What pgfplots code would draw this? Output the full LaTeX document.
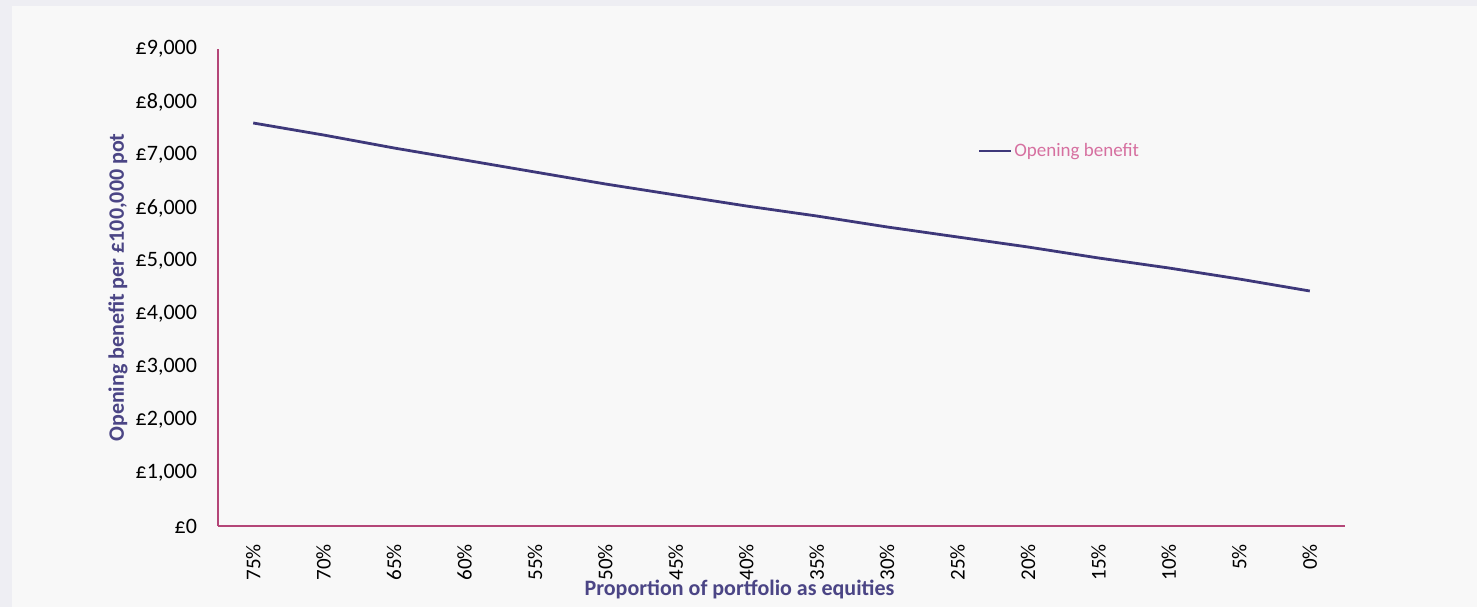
\documentclass[border=0pt]{standalone}
\usepackage{pgfplots}
\pgfplotsset{compat=1.18}
\usepackage{fontspec}
\setmainfont{Carlito}
\definecolor{frame}{RGB}{238,238,243}
\definecolor{panel}{RGB}{248,248,248}
\definecolor{series}{RGB}{62,56,122}
\definecolor{axcol}{RGB}{180,70,120}
\definecolor{titlecol}{RGB}{75,69,133}
\definecolor{legcol}{RGB}{214,112,160}
\begin{document}
\begin{tikzpicture}[x=1pt,y=1pt]
\fill[frame] (0,0) rectangle (738.5,303.5);
\fill[panel] (6,0) rectangle (738.5,300.5);
\useasboundingbox (0,0) rectangle (738.5,303.5);
\begin{axis}[
  at={(109pt,40.5pt)}, anchor=south west,
  scale only axis, width=563.5pt, height=238.5pt,
  xmin=-0.5, xmax=15.5, ymin=0, ymax=9000,
  axis x line=bottom, axis y line=left,
  axis line style={axcol, line width=0.6pt, -},
  major tick length=0pt,
  xtick={0,...,15},
  xticklabels={75\%,70\%,65\%,60\%,55\%,50\%,45\%,40\%,35\%,30\%,25\%,20\%,15\%,10\%,5\%,0\%},
  xticklabel style={rotate=90, anchor=east, font=\fontsize{10.5}{13}\selectfont, xshift=-5.5pt},
  ytick={0,1000,...,9000},
  scaled y ticks=false,
  yticklabel={£\pgfmathprintnumber[fixed,1000 sep={,}]{\tick}},
  yticklabel style={font=\fontsize{11}{13}\selectfont, xshift=-7pt},
  /pgf/number format/assume math mode=true,
  xlabel={Proportion of portfolio as equities},
  ylabel={Opening benefit per £100,000 pot},
  xlabel style={at={(axis description cs:0.5,0)}, anchor=center, xshift=-21pt, yshift=-31.5pt,
    font=\fontsize{11}{13}\selectfont\bfseries, text=titlecol},
  ylabel style={at={(axis description cs:0,0.5)}, anchor=center, yshift=50pt,
    font=\fontsize{11}{13}\selectfont\bfseries, text=titlecol},
  legend style={draw=none, fill=none, at={(rel axis cs:0.674,0.786)}, anchor=west,
    inner sep=0pt, outer sep=0pt, font=\fontsize{9.5}{11}\selectfont, text=legcol,
    nodes={inner sep=1pt}},
  legend image code/.code={\draw[#1] (0pt,0pt) -- (16pt,0pt);},
  clip=false,
]
\addplot[series, line width=1.4pt] coordinates {
(0,7604) (1,7377) (2,7132) (3,6906) (4,6679) (5,6453) (6,6245) (7,6038)
(8,5849) (9,5642) (10,5453) (11,5264) (12,5057) (13,4868) (14,4660) (15,4434)
};
\addlegendentry{Opening benefit}
\end{axis}
\end{tikzpicture}
\end{document}
